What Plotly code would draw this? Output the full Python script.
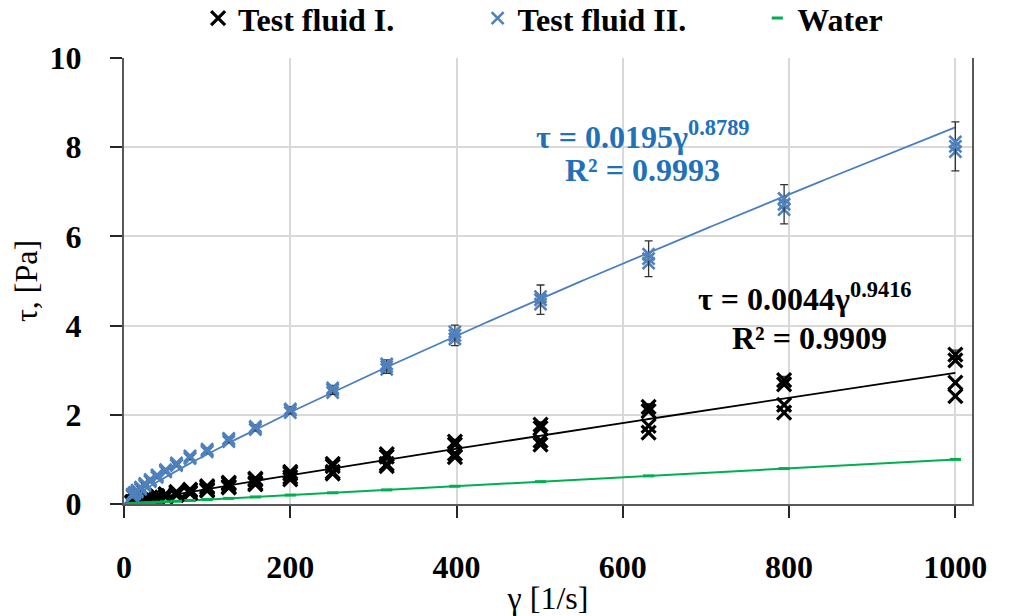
import numpy as np
import plotly.graph_objects as go

# ---- data ----
shear_rate = [10, 12.6, 15.8, 20, 25.1, 31.6, 39.8, 50.1, 63.1, 79.4, 100,
              126, 158, 200, 251, 316, 398, 501, 631, 794, 1000]

# Test fluid I. replicates
fluid1_a = [0.05, 0.06, 0.08, 0.10, 0.12, 0.15, 0.18, 0.22, 0.27, 0.32, 0.40,
            0.48, 0.57, 0.72, 0.90, 1.12, 1.40, 1.78, 2.18, 2.78, 3.35]
fluid1_b = [0.04, 0.05, 0.07, 0.09, 0.11, 0.14, 0.17, 0.21, 0.25, 0.30, 0.37,
            0.45, 0.54, 0.68, 0.85, 1.06, 1.33, 1.70, 2.08, 2.68, 3.22]
fluid1_c = [0.03, 0.04, 0.05, 0.07, 0.09, 0.11, 0.14, 0.17, 0.21, 0.26, 0.32,
            0.39, 0.47, 0.60, 0.72, 0.90, 1.13, 1.42, 1.75, 2.22, 2.72]
fluid1_d = [0.02, 0.03, 0.04, 0.06, 0.08, 0.10, 0.13, 0.16, 0.20, 0.24, 0.30,
            0.37, 0.44, 0.55, 0.68, 0.85, 1.05, 1.33, 1.60, 2.05, 2.42]
fluid1_err = [0.01, 0.01, 0.01, 0.01, 0.01, 0.01, 0.01, 0.01, 0.02, 0.02, 0.02,
              0.02, 0.03, 0.03, 0.04, 0.05, 0.05, 0.06, 0.07, 0.08, 0.10]

# Test fluid II. replicates
fluid2_a = [0.18, 0.22, 0.27, 0.33, 0.41, 0.50, 0.60, 0.72, 0.86, 1.02, 1.17,
            1.40, 1.67, 2.05, 2.50, 3.02, 3.70, 4.48, 5.40, 6.60, 7.90]
fluid2_b = [0.20, 0.24, 0.29, 0.36, 0.44, 0.53, 0.63, 0.75, 0.89, 1.05, 1.20,
            1.44, 1.71, 2.10, 2.56, 3.08, 3.78, 4.58, 5.50, 6.72, 8.02]
fluid2_c = [0.22, 0.26, 0.31, 0.38, 0.46, 0.55, 0.65, 0.77, 0.92, 1.08, 1.23,
            1.47, 1.74, 2.13, 2.60, 3.14, 3.86, 4.65, 5.60, 6.85, 8.12]
fluid2_err = [0.02, 0.02, 0.02, 0.03, 0.03, 0.03, 0.04, 0.04, 0.04, 0.05, 0.05,
              0.06, 0.07, 0.08, 0.10, 0.15, 0.23, 0.33, 0.40, 0.44, 0.55]

# Water
water = [0.010, 0.013, 0.016, 0.020, 0.025, 0.032, 0.040, 0.050, 0.063, 0.079,
         0.100, 0.126, 0.158, 0.200, 0.251, 0.316, 0.398, 0.501, 0.631, 0.794, 1.000]

# Power-law fits shown on the chart
fit1_k, fit1_n = 0.0044, 0.9416
fit2_k, fit2_n = 0.0195, 0.8789

x_ticks = [0, 200, 400, 600, 800, 1000]
y_ticks = [0, 2, 4, 6, 8, 10]

FONT = "Liberation Serif"
BLACK = "#000000"
BLUE = "#4F81BD"
BLUE_TXT = "#2271B8"
GREEN = "#00B050"

gfit = np.linspace(0.5, 1000, 400)

fig = go.Figure()

# fit lines
fig.add_trace(go.Scatter(x=gfit, y=fit2_k * gfit ** fit2_n, mode="lines",
                         line=dict(color="#4A7EC2", width=1.8), showlegend=False, hoverinfo="skip"))
fig.add_trace(go.Scatter(x=gfit, y=fit1_k * gfit ** fit1_n, mode="lines",
                         line=dict(color=BLACK, width=1.8), showlegend=False, hoverinfo="skip"))
# water line
fig.add_trace(go.Scatter(x=[0] + shear_rate, y=[0] + water, mode="lines",
                         line=dict(color=GREEN, width=2), showlegend=False, hoverinfo="skip"))

mk1 = dict(symbol="x-thin", size=14, color=BLACK, line=dict(color=BLACK, width=3.2))
mk2 = dict(symbol="x-thin", size=12, color=BLUE, line=dict(color=BLUE, width=2.6))

# Test fluid I.
for i, ys in enumerate([fluid1_a, fluid1_b, fluid1_c, fluid1_d]):
    kw = {}
    if i == 0:
        kw["error_y"] = dict(type="data", array=fluid1_err, color="#333333", thickness=1.3, width=4)
    fig.add_trace(go.Scatter(x=shear_rate, y=ys, mode="markers", marker=mk1,
                             name="Test fluid I.", legendgroup="f1", legend="legend",
                             showlegend=(i == 0), **kw))

# Test fluid II.
for i, ys in enumerate([fluid2_a, fluid2_b, fluid2_c]):
    kw = {}
    if i == 1:
        kw["error_y"] = dict(type="data", array=fluid2_err, color="#333333", thickness=1.3, width=4)
    fig.add_trace(go.Scatter(x=shear_rate, y=ys, mode="markers", marker=mk2,
                             name="Test fluid II.", legendgroup="f2", legend="legend2",
                             showlegend=(i == 1), **kw))

# Water markers
fig.add_trace(go.Scatter(x=shear_rate, y=water, mode="markers",
                         marker=dict(symbol="line-ew", size=8, color=GREEN,
                                     line=dict(color=GREEN, width=3)),
                         name="Water", legend="legend3"))

leg_common = dict(orientation="h", yanchor="middle", y=1.089, xanchor="left",
                  bgcolor="rgba(0,0,0,0)",
                  font=dict(family=FONT, size=32, color=BLACK, weight="bold"),
                  itemsizing="trace", tracegroupgap=0)

ann_font_blue = dict(family=FONT, size=32, color=BLUE_TXT, weight="bold")
ann_font_black = dict(family=FONT, size=32, color=BLACK, weight="bold")

fig.update_layout(
    width=1004, height=608,
    margin=dict(l=116, r=40, t=50, b=112, autoexpand=False),
    paper_bgcolor="white", plot_bgcolor="white",
    font=dict(family=FONT, color=BLACK),
    legend=dict(**leg_common, x=0.0874),
    legend2=dict(**leg_common, x=0.417),
    legend3=dict(**leg_common, x=0.7468),
    xaxis=dict(range=[0, 1020], tickvals=x_ticks, ticktext=[str(v) for v in x_ticks],
               showgrid=True, gridcolor="#D9D9D9", gridwidth=1.5,
               showline=True, linecolor="#595959", linewidth=2,
               ticks="outside", ticklen=12, tickwidth=2, tickcolor="#262626",
               ticklabelstandoff=22,
               tickfont=dict(family=FONT, size=32, color=BLACK, weight="bold"),
               title=dict(text="γ [1/s]", font=dict(family=FONT, size=32, color=BLACK),
                          standoff=12),
               zeroline=False),
    yaxis=dict(range=[0, 10], tickvals=y_ticks, ticktext=[str(v) for v in y_ticks],
               showgrid=True, gridcolor="#D9D9D9", gridwidth=1.5,
               showline=True, linecolor="#595959", linewidth=2, mirror=True,
               ticks="outside", ticklen=12, tickwidth=2, tickcolor="#262626",
               ticklabelstandoff=22,
               tickfont=dict(family=FONT, size=32, color=BLACK, weight="bold"),
               title=dict(text="τ, [Pa]", font=dict(family=FONT, size=32, color=BLACK),
                          standoff=8),
               zeroline=False),
    annotations=[
        dict(x=624, y=8.27, xref="x", yref="y", text="τ = 0.0195γ<sup>0.8789</sup>",
             showarrow=False, font=ann_font_blue),
        dict(x=624, y=7.49, xref="x", yref="y", text="R² = 0.9993",
             showarrow=False, font=ann_font_blue),
        dict(x=819, y=4.64, xref="x", yref="y", text="τ = 0.0044γ<sup>0.9416</sup>",
             showarrow=False, font=ann_font_black),
        dict(x=825, y=3.72, xref="x", yref="y", text="R² = 0.9909",
             showarrow=False, font=ann_font_black),
    ],
)

fig.write_html("out.html")
